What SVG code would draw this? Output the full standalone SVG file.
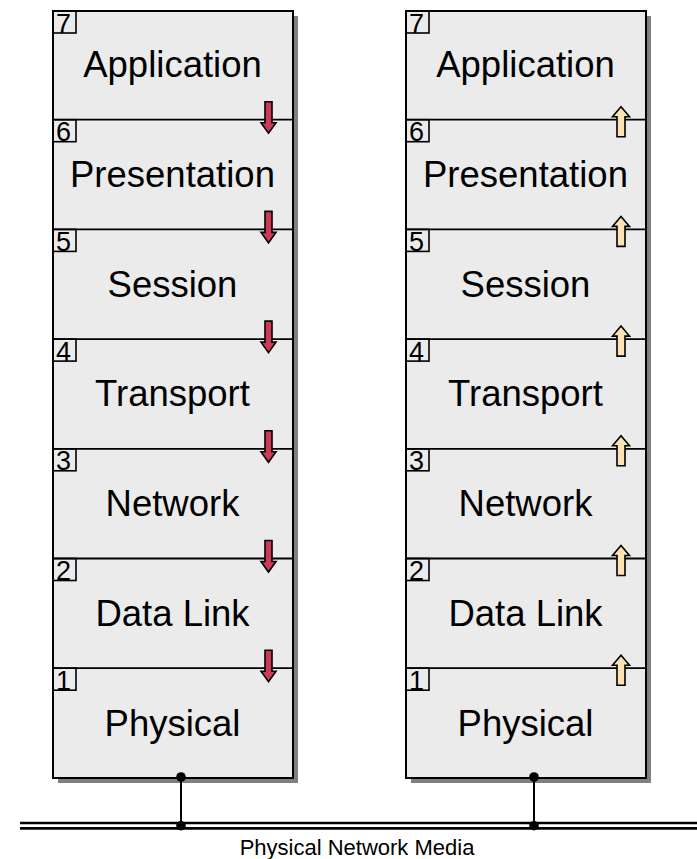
<svg xmlns="http://www.w3.org/2000/svg" xmlns:xlink="http://www.w3.org/1999/xlink" width="697" height="859" viewBox="0 0 697 859">
  <style>
    .shadow { fill: #808080; }
    .stack { fill: #ebebeb; stroke: #000; stroke-width: 2; }
    .divider { stroke: #000; stroke-width: 1.8; }
    .numbox { fill: none; stroke: #000; stroke-width: 1.6; }
    .num { font-family: "Liberation Sans", Arial, sans-serif; font-size: 27px; fill: #000; }
    .label { font-family: "Liberation Sans", Arial, sans-serif; font-size: 36.5px; fill: #000; text-anchor: middle; }
    .media-label { font-family: "Liberation Sans", Arial, sans-serif; font-size: 22px; fill: #000; text-anchor: middle; }
    .wire { stroke: #000; stroke-width: 2; fill: none; }
    .bus { stroke: #000; stroke-width: 2.7; }
    .dot { fill: #000; }
    .down { fill: #cc3a55; stroke: #000; stroke-width: 1.6; stroke-linejoin: miter; }
    .up { fill: #fde2b4; stroke: #000; stroke-width: 1.6; stroke-linejoin: miter; }
  </style>
  <defs>
    <!-- data flowing down the sending stack -->
    <path id="arrow-down" class="down" d="M-3.5,-18 h7 v21 h4 l-7.5,10.5 l-7.5,-10.5 h4 z"/>
    <!-- data flowing up the receiving stack -->
    <path id="arrow-up" class="up" d="M-4,17 h8 v-20 h4.5 l-8.5,-10 l-8.5,10 h4.5 z"/>
  </defs>

  <rect width="697" height="859" fill="#fff"/>

  <!-- sending host stack -->
  <g id="stack-left">
    <rect class="shadow" x="58" y="16" width="240" height="767"/>
    <rect class="stack" x="53" y="11" width="240" height="767"/>
    <g id="left-l7"><rect class="numbox" x="53" y="11" width="23" height="22"/><text class="num" x="56" y="32.5">7</text><text class="label" x="172.5" y="77.3">Application</text></g>
    <g id="left-l6"><line class="divider" x1="53" y1="119.7" x2="293" y2="119.7"/><rect class="numbox" x="53" y="119.7" width="23" height="22"/><text class="num" x="56" y="141.2">6</text><text class="label" x="172.5" y="187">Presentation</text></g>
    <g id="left-l5"><line class="divider" x1="53" y1="229.4" x2="293" y2="229.4"/><rect class="numbox" x="53" y="229.4" width="23" height="22"/><text class="num" x="56" y="250.9">5</text><text class="label" x="172.5" y="296.7">Session</text></g>
    <g id="left-l4"><line class="divider" x1="53" y1="339.1" x2="293" y2="339.1"/><rect class="numbox" x="53" y="339.1" width="23" height="22"/><text class="num" x="56" y="360.6">4</text><text class="label" x="172.5" y="406.4">Transport</text></g>
    <g id="left-l3"><line class="divider" x1="53" y1="448.8" x2="293" y2="448.8"/><rect class="numbox" x="53" y="448.8" width="23" height="22"/><text class="num" x="56" y="470.3">3</text><text class="label" x="172.5" y="516.1">Network</text></g>
    <g id="left-l2"><line class="divider" x1="53" y1="558.5" x2="293" y2="558.5"/><rect class="numbox" x="53" y="558.5" width="23" height="22"/><text class="num" x="56" y="580">2</text><text class="label" x="172.5" y="625.8">Data Link</text></g>
    <g id="left-l1"><line class="divider" x1="53" y1="668.2" x2="293" y2="668.2"/><rect class="numbox" x="53" y="668.2" width="23" height="22"/><text class="num" x="56" y="689.7">1</text><text class="label" x="172.5" y="735.5">Physical</text></g>
    <g id="left-arrows">
      <use xlink:href="#arrow-down" x="268.5" y="119.7"/>
      <use xlink:href="#arrow-down" x="268.5" y="229.4"/>
      <use xlink:href="#arrow-down" x="268.5" y="339.1"/>
      <use xlink:href="#arrow-down" x="268.5" y="448.8"/>
      <use xlink:href="#arrow-down" x="268.5" y="558.5"/>
      <use xlink:href="#arrow-down" x="268.5" y="668.2"/>
    </g>
  </g>

  <!-- receiving host stack -->
  <g id="stack-right">
    <rect class="shadow" x="411" y="16" width="240" height="767"/>
    <rect class="stack" x="406" y="11" width="240" height="767"/>
    <g id="right-l7"><rect class="numbox" x="406" y="11" width="23" height="22"/><text class="num" x="409" y="32.5">7</text><text class="label" x="525.5" y="77.3">Application</text></g>
    <g id="right-l6"><line class="divider" x1="406" y1="119.7" x2="646" y2="119.7"/><rect class="numbox" x="406" y="119.7" width="23" height="22"/><text class="num" x="409" y="141.2">6</text><text class="label" x="525.5" y="187">Presentation</text></g>
    <g id="right-l5"><line class="divider" x1="406" y1="229.4" x2="646" y2="229.4"/><rect class="numbox" x="406" y="229.4" width="23" height="22"/><text class="num" x="409" y="250.9">5</text><text class="label" x="525.5" y="296.7">Session</text></g>
    <g id="right-l4"><line class="divider" x1="406" y1="339.1" x2="646" y2="339.1"/><rect class="numbox" x="406" y="339.1" width="23" height="22"/><text class="num" x="409" y="360.6">4</text><text class="label" x="525.5" y="406.4">Transport</text></g>
    <g id="right-l3"><line class="divider" x1="406" y1="448.8" x2="646" y2="448.8"/><rect class="numbox" x="406" y="448.8" width="23" height="22"/><text class="num" x="409" y="470.3">3</text><text class="label" x="525.5" y="516.1">Network</text></g>
    <g id="right-l2"><line class="divider" x1="406" y1="558.5" x2="646" y2="558.5"/><rect class="numbox" x="406" y="558.5" width="23" height="22"/><text class="num" x="409" y="580">2</text><text class="label" x="525.5" y="625.8">Data Link</text></g>
    <g id="right-l1"><line class="divider" x1="406" y1="668.2" x2="646" y2="668.2"/><rect class="numbox" x="406" y="668.2" width="23" height="22"/><text class="num" x="409" y="689.7">1</text><text class="label" x="525.5" y="735.5">Physical</text></g>
    <g id="right-arrows">
      <use xlink:href="#arrow-up" x="621" y="119.7"/>
      <use xlink:href="#arrow-up" x="621" y="229.4"/>
      <use xlink:href="#arrow-up" x="621" y="339.1"/>
      <use xlink:href="#arrow-up" x="621" y="448.8"/>
      <use xlink:href="#arrow-up" x="621" y="558.5"/>
      <use xlink:href="#arrow-up" x="621" y="668.2"/>
    </g>
  </g>

  <!-- links from each host to the shared medium -->
  <g id="connectors">
    <line class="bus" x1="20" y1="823" x2="697" y2="823"/>
    <line class="bus" x1="20" y1="828.4" x2="697" y2="828.4"/>
    <line class="wire" x1="181" y1="777" x2="181" y2="825.7"/>
    <line class="wire" x1="534" y1="777" x2="534" y2="825.7"/>
    <circle class="dot" cx="181" cy="777" r="4.8"/>
    <circle class="dot" cx="181" cy="825.7" r="4.8"/>
    <circle class="dot" cx="534" cy="777" r="4.8"/>
    <circle class="dot" cx="534" cy="825.7" r="4.8"/>
  </g>

  <g id="media">
    <text class="media-label" x="357" y="855">Physical Network Media</text>
  </g>
</svg>
